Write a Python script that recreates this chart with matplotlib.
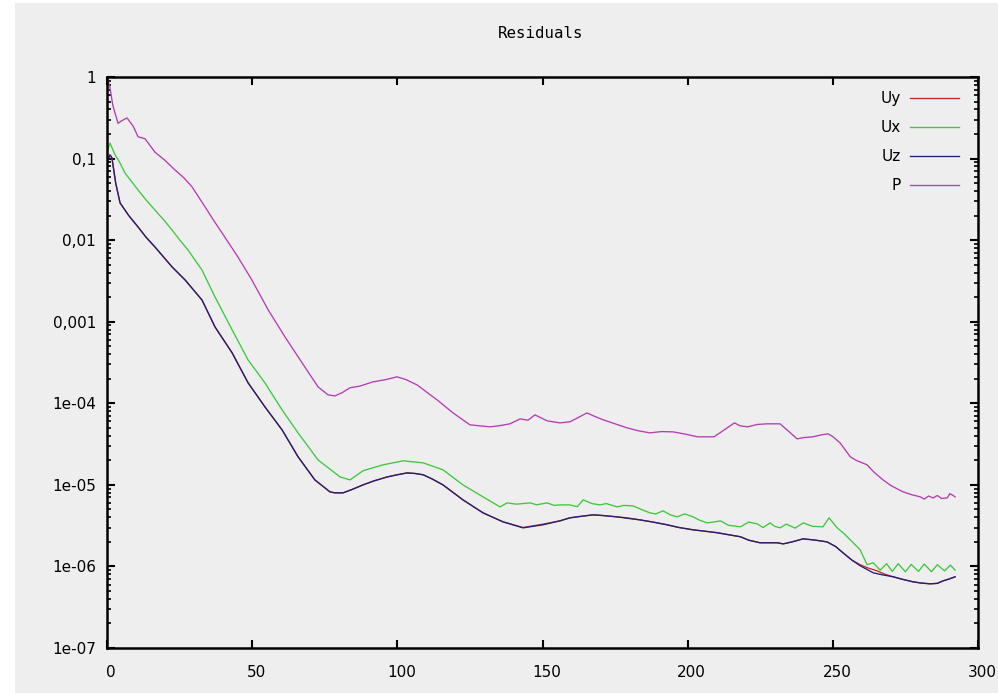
import matplotlib
matplotlib.use("Agg")
import matplotlib.pyplot as plt
import matplotlib.ticker as mticker
import matplotlib.transforms as mtransforms
from matplotlib.patches import Rectangle

# ---------------- data ----------------
p_x = [0, 1, 2, 3.8, 5, 6.9, 9, 10.7, 13.1, 16.5, 20, 23.4, 26.5, 29.3, 33.8, 36.5,
       39.6, 45.1, 49.9, 55.5, 61.3, 67.2, 72.7, 76.1, 78.5, 81, 83.7, 87, 91.6, 96,
       99.9, 103, 106.8, 110, 113.7, 119.2, 125, 131.9, 135, 138.8, 142.3, 145, 147.4,
       151.6, 156, 159.4, 162, 165.3, 168, 170.9, 175, 179.1, 183, 187, 191, 195, 199,
       203.4, 209.1, 212.6, 216.1, 218, 220.6, 224, 227.3, 231.8, 234, 237.7, 240,
       243.2, 246, 248.4, 250, 252.5, 256, 258, 261.8, 264, 267.3, 270, 274.2, 277,
       280.1, 281.5, 283, 284.5, 286, 287.5, 289.4, 290.3, 291.1, 292.1]
p_v = [1.0, 0.75, 0.45, 0.27, 0.29, 0.315, 0.25, 0.185, 0.175, 0.12, 0.095, 0.0725,
       0.058, 0.0449, 0.0255, 0.018, 0.0123, 0.00622, 0.00325, 0.0014, 6.52e-4,
       3.13e-4, 1.59e-4, 1.27e-4, 1.23e-4, 1.35e-4, 1.55e-4, 1.62e-4, 1.83e-4, 1.95e-4,
       2.11e-4, 1.95e-4, 1.68e-4, 1.38e-4, 1.10e-4, 7.62e-5, 5.44e-5, 5.14e-5, 5.3e-5,
       5.6e-5, 6.44e-5, 6.2e-5, 7.21e-5, 6.09e-5, 5.75e-5, 5.92e-5, 6.6e-5, 7.62e-5,
       6.9e-5, 6.27e-5, 5.6e-5, 5.0e-5, 4.6e-5, 4.34e-5, 4.5e-5, 4.46e-5, 4.2e-5,
       3.88e-5, 3.88e-5, 4.72e-5, 5.75e-5, 5.3e-5, 5.14e-5, 5.5e-5, 5.6e-5, 5.6e-5,
       4.8e-5, 3.66e-5, 3.8e-5, 3.88e-5, 4.1e-5, 4.22e-5, 3.9e-5, 3.27e-5, 2.21e-5,
       2.0e-5, 1.76e-5, 1.45e-5, 1.15e-5, 9.8e-6, 8.2e-6, 7.6e-6, 7.13e-6, 6.7e-6,
       7.3e-6, 6.9e-6, 7.4e-6, 6.8e-6, 6.93e-6, 7.8e-6, 7.54e-6, 7.13e-6]

ux_x = [0, 1, 2.8, 4.5, 6.2, 8.5, 10.7, 13.5, 16.5, 19.5, 22.4, 25, 27.9, 32.7, 37.2,
        43.1, 48.6, 54.4, 60.3, 65.8, 72.7, 78.5, 80.3, 83.7, 88.2, 95.1, 102, 108.9,
        115.7, 122.6, 129.5, 135.4, 137.8, 141, 145.7, 148, 151.6, 154, 156, 159.4,
        162, 164, 167, 169.8, 172, 175.7, 178, 181.2, 184, 187, 189, 191.5, 194,
        196.3, 199, 201.9, 204, 206.7, 209, 211.3, 214, 218.2, 221, 223.9, 226, 228.4,
        230, 231.8, 234, 237, 239.8, 243, 246.6, 248.7, 251.5, 254, 256, 259.4, 261.8,
        263.9, 266.3, 268.5, 270.5, 272.5, 275, 277, 279.5, 281.5, 284, 286, 288.5,
        290.5, 292.1]
ux_v = [0.12, 0.155, 0.111, 0.088, 0.0666, 0.052, 0.0412, 0.031, 0.0234, 0.0178,
        0.0133, 0.0101, 0.00759, 0.00431, 0.00201, 7.94e-4, 3.40e-4, 1.78e-4, 8.3e-5,
        4.34e-5, 2.02e-5, 1.40e-5, 1.25e-5, 1.15e-5, 1.49e-5, 1.76e-5, 1.97e-5,
        1.86e-5, 1.53e-5, 1.0e-5, 7.13e-6, 5.37e-6, 6.01e-6, 5.8e-6, 6.01e-6, 5.7e-6,
        6.01e-6, 5.6e-6, 5.68e-6, 5.68e-6, 5.4e-6, 6.55e-6, 5.9e-6, 5.68e-6, 5.9e-6,
        5.37e-6, 5.6e-6, 5.52e-6, 5.0e-6, 4.54e-6, 4.4e-6, 4.8e-6, 4.3e-6, 4.05e-6,
        4.4e-6, 4.05e-6, 3.7e-6, 3.42e-6, 3.5e-6, 3.62e-6, 3.2e-6, 3.06e-6, 3.5e-6,
        3.33e-6, 3.0e-6, 3.42e-6, 3.1e-6, 2.97e-6, 3.3e-6, 2.95e-6, 3.42e-6, 3.1e-6,
        3.06e-6, 3.94e-6, 2.97e-6, 2.5e-6, 2.12e-6, 1.6e-6, 1.05e-6, 1.11e-6, 9.0e-7,
        1.08e-6, 8.7e-7, 1.08e-6, 8.6e-7, 1.06e-6, 8.7e-7, 1.07e-6, 8.6e-7, 1.05e-6,
        8.8e-7, 1.04e-6, 9.0e-7]

uz_x = [0, 1, 1.7, 3, 4.5, 7.5, 10.7, 13.5, 16.5, 19.5, 22.4, 26.9, 32.7, 37.2, 43.1,
        48.6, 54.4, 60.3, 65.8, 71.6, 76.8, 78.5, 81.3, 84.5, 88.2, 92, 96.5, 100,
        103.3, 106, 108.9, 112, 115.7, 122.6, 129.5, 136.4, 143.3, 150.2, 156, 159.4,
        163, 167.4, 171, 175.7, 179, 183.6, 188, 192.9, 197, 201.9, 206, 210.2, 214,
        218.2, 221, 224.9, 230.8, 232.9, 236, 239.8, 244, 248, 251, 253.5, 256.5,
        259.4, 263.9, 267, 270.8, 274, 277.6, 280.5, 283.5, 286, 288, 290, 292.1]
uz_v = [0.09, 0.111, 0.102, 0.05, 0.0286, 0.02, 0.0145, 0.0108, 0.00826, 0.0062,
        0.0047, 0.00325, 0.00185, 8.63e-4, 4.15e-4, 1.78e-4, 9.04e-5, 4.72e-5, 2.21e-5,
        1.15e-5, 8.2e-6, 7.98e-6, 7.98e-6, 8.8e-6, 1.0e-5, 1.12e-5, 1.25e-5, 1.33e-5,
        1.40e-5, 1.38e-5, 1.33e-5, 1.18e-5, 1.0e-5, 6.55e-6, 4.54e-6, 3.52e-6,
        2.97e-6, 3.24e-6, 3.62e-6, 3.94e-6, 4.1e-6, 4.29e-6, 4.2e-6, 4.05e-6, 3.9e-6,
        3.72e-6, 3.5e-6, 3.24e-6, 3.0e-6, 2.81e-6, 2.7e-6, 2.58e-6, 2.45e-6, 2.31e-6,
        2.1e-6, 1.95e-6, 1.95e-6, 1.89e-6, 2.0e-6, 2.18e-6, 2.1e-6, 2.0e-6, 1.75e-6,
        1.47e-6, 1.2e-6, 1.02e-6, 8.35e-7, 7.9e-7, 7.46e-7, 6.95e-7, 6.48e-7, 6.25e-7,
        6.12e-7, 6.2e-7, 6.66e-7, 7.0e-7, 7.46e-7]

uy_x = [0, 1, 1.7, 3, 4.5, 7.5, 10.7, 13.5, 16.5, 19.5, 22.4, 26.9, 32.7, 37.2, 43.1,
        48.6, 54.4, 60.3, 65.8, 71.6, 76.8, 78.5, 81.3, 84.5, 88.2, 92, 96.5, 100,
        103.3, 106, 108.9, 112, 115.7, 122.6, 129.5, 136.4, 143.3, 150.2, 156, 159.4,
        163, 167.4, 171, 175.7, 179, 183.6, 188, 192.9, 197, 201.9, 206, 210.2, 214,
        218.2, 221, 224.9, 230.8, 232.9, 236, 239.8, 244, 248, 251, 253.5, 256.5,
        259.4, 262, 265, 268, 270.8, 274, 277.6, 280.5, 283.5, 286, 288, 290, 292.1]
uy_v = [0.09, 0.111, 0.102, 0.05, 0.0286, 0.02, 0.0145, 0.0108, 0.00826, 0.0062,
        0.0047, 0.00325, 0.00185, 8.63e-4, 4.15e-4, 1.78e-4, 9.04e-5, 4.72e-5, 2.21e-5,
        1.15e-5, 8.2e-6, 7.98e-6, 7.98e-6, 8.8e-6, 1.0e-5, 1.12e-5, 1.25e-5, 1.33e-5,
        1.40e-5, 1.38e-5, 1.33e-5, 1.18e-5, 1.0e-5, 6.55e-6, 4.54e-6, 3.52e-6,
        3.0e-6, 3.3e-6, 3.62e-6, 3.94e-6, 4.1e-6, 4.29e-6, 4.2e-6, 4.05e-6, 3.95e-6,
        3.72e-6, 3.5e-6, 3.24e-6, 3.0e-6, 2.81e-6, 2.7e-6, 2.6e-6, 2.45e-6, 2.31e-6,
        2.1e-6, 1.95e-6, 1.95e-6, 1.89e-6, 2.0e-6, 2.18e-6, 2.1e-6, 2.0e-6, 1.75e-6,
        1.47e-6, 1.2e-6, 1.05e-6, 9.6e-7, 8.9e-7, 8.0e-7, 7.46e-7, 6.95e-7, 6.48e-7,
        6.25e-7, 6.12e-7, 6.2e-7, 6.66e-7, 7.0e-7, 7.46e-7]

series_names = ["Uy", "Ux", "Uz", "P"]
x_ticks = [0, 50, 100, 150, 200, 250, 300]
y_ticks = [1e-7, 1e-6, 1e-5, 1e-4, 1e-3, 1e-2, 1e-1, 1]
y_tick_labels = ["1e-07", "1e-06", "1e-05", "1e-04", "0,001", "0,01", "0,1", "1"]
title = "Residuals"

# ---------------- figure ----------------
W, H, DPI = 998, 693, 100
bg = "#eeeeee"
fig = plt.figure(figsize=(W / DPI, H / DPI), dpi=DPI, facecolor=bg)
fig.patches.append(Rectangle((0, 0), 15 / W, 1, transform=fig.transFigure,
                             facecolor="white", edgecolor="none", zorder=-10))
fig.patches.append(Rectangle((0, 1 - 3 / H), 1, 3 / H, transform=fig.transFigure,
                             facecolor="white", edgecolor="none", zorder=-10))

left, right, top, bottom = 107, 978, 77, 648
ax = fig.add_axes([left / W, 1 - bottom / H, (right - left) / W, (bottom - top) / H])
ax.set_facecolor(bg)

colors = {"Uy": "#c82828", "Ux": "#3cc83c", "Uz": "#202078", "P": "#b43cb4"}
data = {"Uy": (uy_x, uy_v), "Ux": (ux_x, ux_v), "Uz": (uz_x, uz_v), "P": (p_x, p_v)}
for name in series_names:
    xs, vs = data[name]
    ax.plot(xs, vs, color=colors[name], lw=0.95, label=name)

ax.set_yscale("log")
ax.set_xlim(0, 300)
ax.set_ylim(1e-7, 1)

ax.set_xticks(x_ticks)
ax.set_xticklabels([str(t) for t in x_ticks])
ax.yaxis.set_major_locator(mticker.FixedLocator(y_ticks))
ax.yaxis.set_major_formatter(mticker.FixedFormatter(y_tick_labels))
ax.yaxis.set_minor_locator(mticker.LogLocator(base=10, subs=range(2, 10), numticks=20))
ax.yaxis.set_minor_formatter(mticker.NullFormatter())

ax.tick_params(axis="both", which="major", direction="in", length=6, width=1.5,
               top=True, right=True, labelsize=11, colors="black")
ax.tick_params(axis="y", which="minor", direction="in", length=3, width=1.2,
               left=True, right=True)
ax.tick_params(axis="x", which="major", pad=12)
ax.tick_params(axis="y", which="major", pad=8)
for lbl in ax.get_xticklabels():
    lbl.set_transform(lbl.get_transform() +
                      mtransforms.ScaledTranslation(4 / DPI, 0, fig.dpi_scale_trans))
for s in ax.spines.values():
    s.set_linewidth(1.8)
    s.set_color("black")

fig.text(541 / W, 1 - 33 / H, title, ha="center", va="center",
         family="DejaVu Sans Mono", fontsize=11.3)

leg = ax.legend(loc="upper right", bbox_to_anchor=(959 / W, 1 - 91 / H),
                bbox_transform=fig.transFigure, markerfirst=False, frameon=False,
                handlelength=3.2, handletextpad=0.6, labelspacing=0.92, fontsize=11,
                borderaxespad=0, borderpad=0)
for t in leg.get_texts():
    t.set_ha("right")

fig.savefig("out.png", dpi=DPI, facecolor=bg)
